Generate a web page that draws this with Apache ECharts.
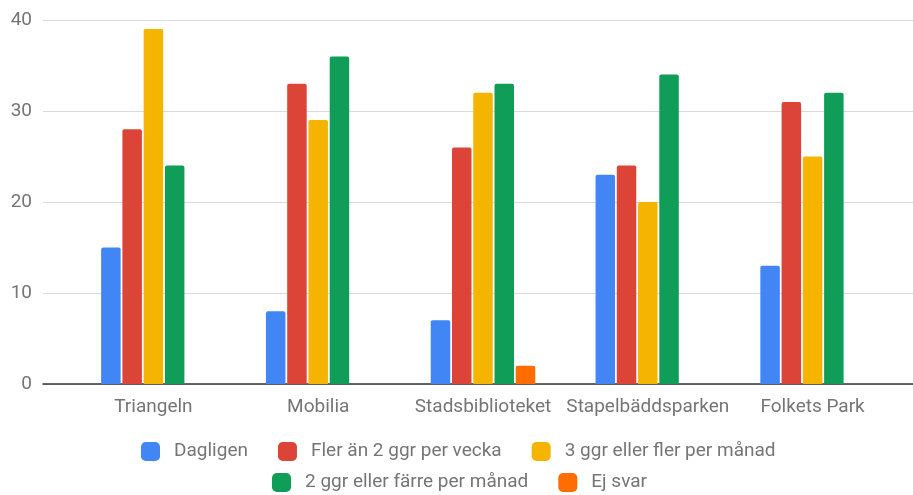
<!DOCTYPE html>
<html>
<head>
<meta charset="utf-8">
<script src="https://cdn.jsdelivr.net/npm/echarts@6/dist/echarts.min.js"></script>
<style>
  html, body { margin: 0; padding: 0; background: #fff; }
  #chart { width: 913px; height: 495px; }
</style>
</head>
<body>
<div id="chart"></div>
<script>
// kategorier och värden
const categories = ["Triangeln", "Mobilia", "Stadsbiblioteket", "Stapelbäddsparken", "Folkets Park"];
const dagligen = [15, 8, 7, 23, 13];
const flerAn2PerVecka = [28, 33, 26, 24, 31];
const tre_ellerFlerPerManad = [39, 29, 32, 20, 25];
const tva_ellerFarrePerManad = [24, 36, 33, 34, 32];
const ejSvar = ["-", "-", 2, "-", "-"];
const yTicks = [0, 10, 20, 30, 40];

const seriesNames = [
  "Dagligen",
  "Fler än 2 ggr per vecka",
  "3 ggr eller fler per månad",
  "2 ggr eller färre per månad",
  "Ej svar"
];
const seriesData = [dagligen, flerAn2PerVecka, tre_ellerFlerPerManad, tva_ellerFarrePerManad, ejSvar];
const colors = ["#4285F4", "#DB4437", "#F4B400", "#0F9D58", "#FF6D00"];

const font = "Roboto, 'Noto Sans', sans-serif";
const textColor = "#757575";

const chart = echarts.init(document.getElementById("chart"));

const legendBase = {
  padding: 0,
  itemWidth: 19,
  itemHeight: 19,
  itemGap: 30,
  icon: "roundRect",
  textStyle: { color: textColor, fontSize: 19, fontFamily: font, padding: [0, 0, 0, 9] }
};

chart.setOption({
  animation: false,
  color: colors,
  grid: [
    // bakgrund: stödlinjer och y-axel
    { left: 43, right: 0, top: 20, bottom: 111 },
    // staplar
    { left: 71, right: 18, top: 20, bottom: 111 }
  ],
  legend: [
    Object.assign({}, legendBase, { left: 141, top: 442, data: seriesNames.slice(0, 3) }),
    Object.assign({}, legendBase, { left: 272, top: 473, data: seriesNames.slice(3) })
  ],
  xAxis: [
    {
      gridIndex: 0,
      type: "category",
      data: [""],
      axisLine: { show: true, lineStyle: { color: "#333", width: 1.5 } },
      axisTick: { show: false },
      axisLabel: { show: false }
    },
    {
      gridIndex: 1,
      type: "category",
      data: categories,
      axisLine: { show: false },
      axisTick: { show: false },
      axisLabel: { color: textColor, fontSize: 19, fontFamily: font, margin: 14, interval: 0 }
    }
  ],
  yAxis: [
    {
      gridIndex: 0,
      type: "value",
      min: yTicks[0],
      max: yTicks[yTicks.length - 1],
      interval: 10,
      axisLine: { show: false },
      axisTick: { show: false },
      axisLabel: { color: textColor, fontSize: 19, fontFamily: font, margin: 11 },
      splitLine: { lineStyle: { color: "#d9d9d9", width: 1 } }
    },
    {
      gridIndex: 1,
      type: "value",
      min: yTicks[0],
      max: yTicks[yTicks.length - 1],
      interval: 10,
      show: false,
      splitLine: { show: false }
    }
  ],
  series: seriesNames.map((name, i) => ({
    name,
    type: "bar",
    xAxisIndex: 1,
    yAxisIndex: 1,
    data: seriesData[i],
    barWidth: 19.5,
    barGap: "9%",
    itemStyle: { color: colors[i], borderRadius: [2, 2, 0, 0] }
  }))
});
</script>
</body>
</html>
